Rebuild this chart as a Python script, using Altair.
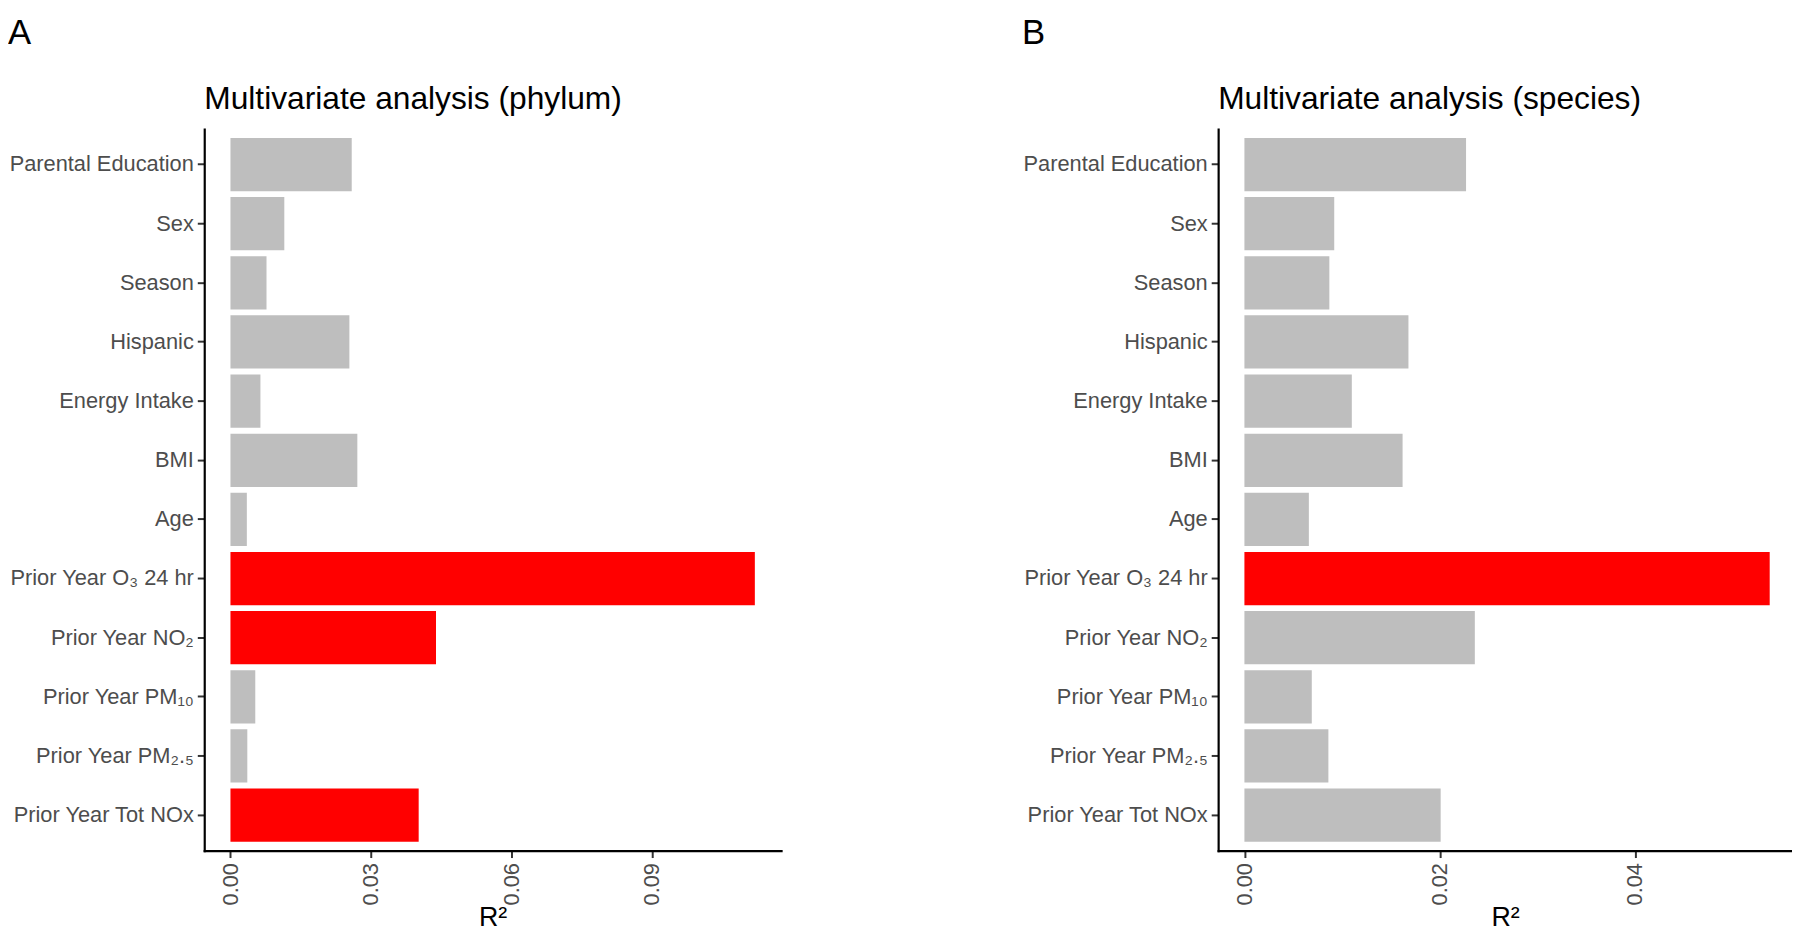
import altair as alt
import pandas as pd

FONT = "Liberation Sans, Arial, Helvetica, sans-serif"

labels = [
    "Parental Education", "Sex", "Season", "Hispanic", "Energy Intake", "BMI", "Age",
    "Prior Year O\u2083 24 hr", "Prior Year NO\u2082", "Prior Year PM\u2081\u2080",
    "Prior Year PM\u2082.\u2085", "Prior Year Tot NOx",
]
phylum_r2 = [0.0259, 0.0115, 0.0077, 0.0254, 0.0064, 0.0271, 0.0035,
             0.1120, 0.0439, 0.0053, 0.0036, 0.0402]
phylum_sig = ["ns", "ns", "ns", "ns", "ns", "ns", "ns", "sig", "sig", "ns", "ns", "sig"]
species_r2 = [0.0227, 0.0092, 0.0087, 0.0168, 0.0110, 0.0162, 0.0066,
              0.0538, 0.0236, 0.0069, 0.0086, 0.0201]
species_sig = ["ns", "ns", "ns", "ns", "ns", "ns", "ns", "sig", "ns", "ns", "ns", "ns"]

phylum_ticks = [0.0, 0.03, 0.06, 0.09]
species_ticks = [0.0, 0.02, 0.04]


def panel(values, sig, ticks, title, letter, width, crop=1.0):
    df = pd.DataFrame({"label": labels, "r2": values, "sig": sig, "base": [0.0] * len(values)})
    vmax = max(values)
    pad = 0.05 * vmax
    dmin = -pad
    dmax = dmin + (vmax + 2 * pad) * crop
    bars = alt.Chart(df).mark_bar().encode(
        x=alt.X("r2:Q", scale=alt.Scale(domain=[dmin, dmax], nice=False, zero=False),
                axis=alt.Axis(title="R\u00b2", values=ticks, format=".2f", labelAngle=270,
                              labelAlign="right", labelBaseline="middle",
                              labelFontSize=22, labelColor="#4D4D4D", labelFont=FONT,
                              labelPadding=5, tickSize=7, tickWidth=2, tickColor="#333333",
                              domainColor="black", domainWidth=2.2, domainCap="square",
                              grid=False, titleFont=FONT, titleFontSize=27,
                              titleFontWeight="normal", titleColor="black", titlePadding=0)),
        x2=alt.X2("base:Q"),
        y=alt.Y("label:N", sort=labels,
                scale=alt.Scale(paddingInner=0.1, paddingOuter=0.15),
                axis=alt.Axis(title=None, labelFontSize=22, labelColor="#4D4D4D", labelFont=FONT,
                              labelPadding=4, tickSize=7, tickWidth=2, tickColor="#333333",
                              domainColor="black", domainWidth=2.2, domainCap="square",
                              grid=False, labelLimit=400)),
        color=alt.Color("sig:N", scale=alt.Scale(domain=["ns", "sig"], range=["#BEBEBE", "#FF0000"]),
                        legend=None),
    )
    tag = alt.Chart(pd.DataFrame({"t": [letter]})).mark_text(
        align="left", baseline="alphabetic", fontSize=35, font=FONT, color="black"
    ).encode(x=alt.value(-198), y=alt.value(-86), text="t:N")
    head = alt.Chart(pd.DataFrame({"t": [title]})).mark_text(
        align="left", baseline="alphabetic", fontSize=32, font=FONT, color="black"
    ).encode(x=alt.value(0), y=alt.value(-20), text="t:N")
    return alt.layer(bars, tag, head).properties(width=width, height=728)


left = panel(phylum_r2, phylum_sig, phylum_ticks, "Multivariate analysis (phylum)", "A", 582)
right = panel(species_r2, species_sig, species_ticks, "Multivariate analysis (species)", "B", 579,
              crop=579 / 583)

chart = alt.hconcat(left, right, spacing=243).properties(
    padding={"top": 4, "left": 0, "right": 0, "bottom": 0}, background="white"
).configure_view(stroke=None)

chart.save("out.html", embed_options={"renderer": "svg", "actions": False})
